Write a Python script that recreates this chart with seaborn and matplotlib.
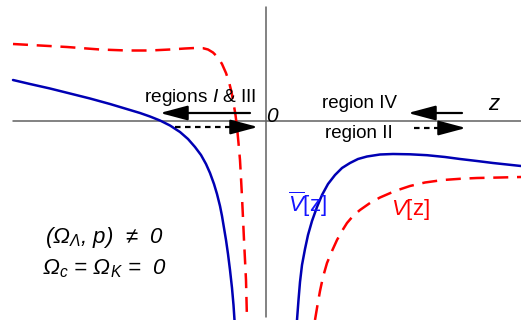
import matplotlib
matplotlib.use("Agg")
import matplotlib.pyplot as plt
import seaborn as sns
import numpy as np

sns.set_theme(style="white")
plt.rcParams["font.family"] = ["Liberation Sans", "DejaVu Sans"]
# all math text in this schematic is set in italic sans
plt.rcParams["mathtext.fontset"] = "custom"
plt.rcParams["mathtext.rm"] = "Liberation Sans:italic"
plt.rcParams["mathtext.it"] = "Liberation Sans:italic"
plt.rcParams["mathtext.bf"] = "Liberation Sans:bold"

# Schematic units: z to the right of the origin, V upward from the z axis.
# Effective potential V-bar[z] (solid blue), left and right branches
vbar_left_z = [-253, -236, -216, -196, -176, -156, -141, -126, -116, -106, -96, -86, -78, -71,
               -65, -60, -56, -52, -49, -46, -44, -42, -40, -38, -36, -34, -32.5, -31.5]
vbar_left_v = [41, 37, 32.5, 27.5, 22.5, 17, 12.5, 8, 4.5, 0.5, -4.5, -11, -18, -26,
               -34, -43, -52, -63, -73, -85, -95, -107, -119, -133, -149, -167, -184, -199]
vbar_right_z = [31, 32.5, 34, 36, 39, 42, 46, 51, 56, 62, 69, 76, 84, 92, 101, 114, 127,
                144, 161, 179, 194, 211, 227, 241, 255]
vbar_right_v = [-199, -179, -161, -144, -128, -114, -100, -86, -74, -63, -54, -47, -42, -38,
                -35.5, -33.5, -33, -33.3, -34.2, -36, -38, -40, -42, -43.5, -45]

# Potential V[z] (dashed red), left and right branches
v_left_z = [-253, -226, -199, -166, -139, -116, -96, -81, -71, -63, -58, -53, -48, -44, -40,
            -37, -34.5, -32.5, -30.5, -29, -27.5, -26, -25, -24, -23, -22, -21, -20, -19.5, -19]
v_left_v = [77, 75.5, 74, 71.5, 70.5, 70.5, 71.5, 72.5, 73, 72.8, 71.5, 68.5, 63.5, 57, 48,
            39, 29, 18, 6, -6, -22, -39, -57, -76, -97, -119, -139, -159, -179, -199]
v_right_z = [49, 51.5, 54, 57, 61, 66, 71, 76, 81, 87, 94, 104, 114, 129, 144, 159, 177,
             194, 211, 234, 255]
v_right_v = [-199, -184, -170, -156, -142, -130, -119, -110, -102, -95, -89, -82, -76.5,
             -70, -65, -61.5, -59, -57.8, -57, -56.5, -56]

BLUE = "#0000b4"
RED = "#ff0000"
AXIS = "#606060"

fig = plt.figure(figsize=(5.21, 3.20), dpi=100)
ax = fig.add_axes([0, 0, 1, 1])
ax.set_xlim(-266, 255)
ax.set_ylim(-199, 121)
ax.axis("off")

# coordinate axes
ax.plot([-253, 255], [0, 0], color=AXIS, lw=1.1, zorder=1)
ax.plot([0, 0], [-196, 114], color=AXIS, lw=1.1, zorder=1)

for zs, vs in [(vbar_left_z, vbar_left_v), (vbar_right_z, vbar_right_v)]:
    sns.lineplot(x=zs, y=vs, sort=False, estimator=None, ax=ax,
                 color=BLUE, lw=1.8, zorder=3)
for zs, vs in [(v_left_z, v_left_v), (v_right_z, v_right_v)]:
    sns.lineplot(x=zs, y=vs, sort=False, estimator=None, ax=ax,
                 color=RED, lw=1.8, linestyle=(0, (6, 3.5)), zorder=3)


def solid_arrow(start, end):
    ax.annotate("", xy=end, xytext=start,
                arrowprops=dict(arrowstyle="-|>,head_length=1.2,head_width=0.32",
                                color="black", lw=1.6, shrinkA=0, shrinkB=0,
                                mutation_scale=14), zorder=4)


def dashed_arrow(start, end):
    direction = np.sign(end[0] - start[0])
    ax.plot([start[0], end[0] - 10 * direction], [start[1], end[1]], color="black",
            lw=1.6, linestyle=(0, (2.5, 2.0)), zorder=4)
    solid_arrow((end[0] - 14 * direction, end[1]), end)


solid_arrow((-16, 8), (-106, 8))
dashed_arrow((-91, -6), (-8, -6))
solid_arrow((196, 8), (142, 8))
dashed_arrow((148, -7), (200, -7))

ax.text(-66, 23.5, r"regions $I$ & III", fontsize=13.8,
        ha="center", va="center", color="black")
ax.text(93, 17, "region IV", fontsize=13.5, ha="center", va="center", color="black")
ax.text(93, -13, "region II", fontsize=13.5, ha="center", va="center", color="black")
ax.text(228, 16, "z", fontsize=16, fontstyle="italic", ha="center", va="center", color="black")
ax.text(6, 4, "0", fontsize=15, fontstyle="italic", ha="center", va="center", color="black")

ax.text(41, -83, r"$\overline{V}$[z]", fontsize=16, ha="center", va="center", color="#1414ff")
ax.text(144, -89, r"$V$[z]", fontsize=16, ha="center", va="center", color=RED)

ax.text(-162, -117, "(Ω$_{Λ}$, p)  ≠  0", fontsize=16, fontstyle="italic",
        ha="center", va="center", color="black")
ax.text(-162, -148, "Ω$_{c}$ = Ω$_{K}$ =  0", fontsize=16, fontstyle="italic",
        ha="center", va="center", color="black")

fig.savefig("out.png", dpi=100)
